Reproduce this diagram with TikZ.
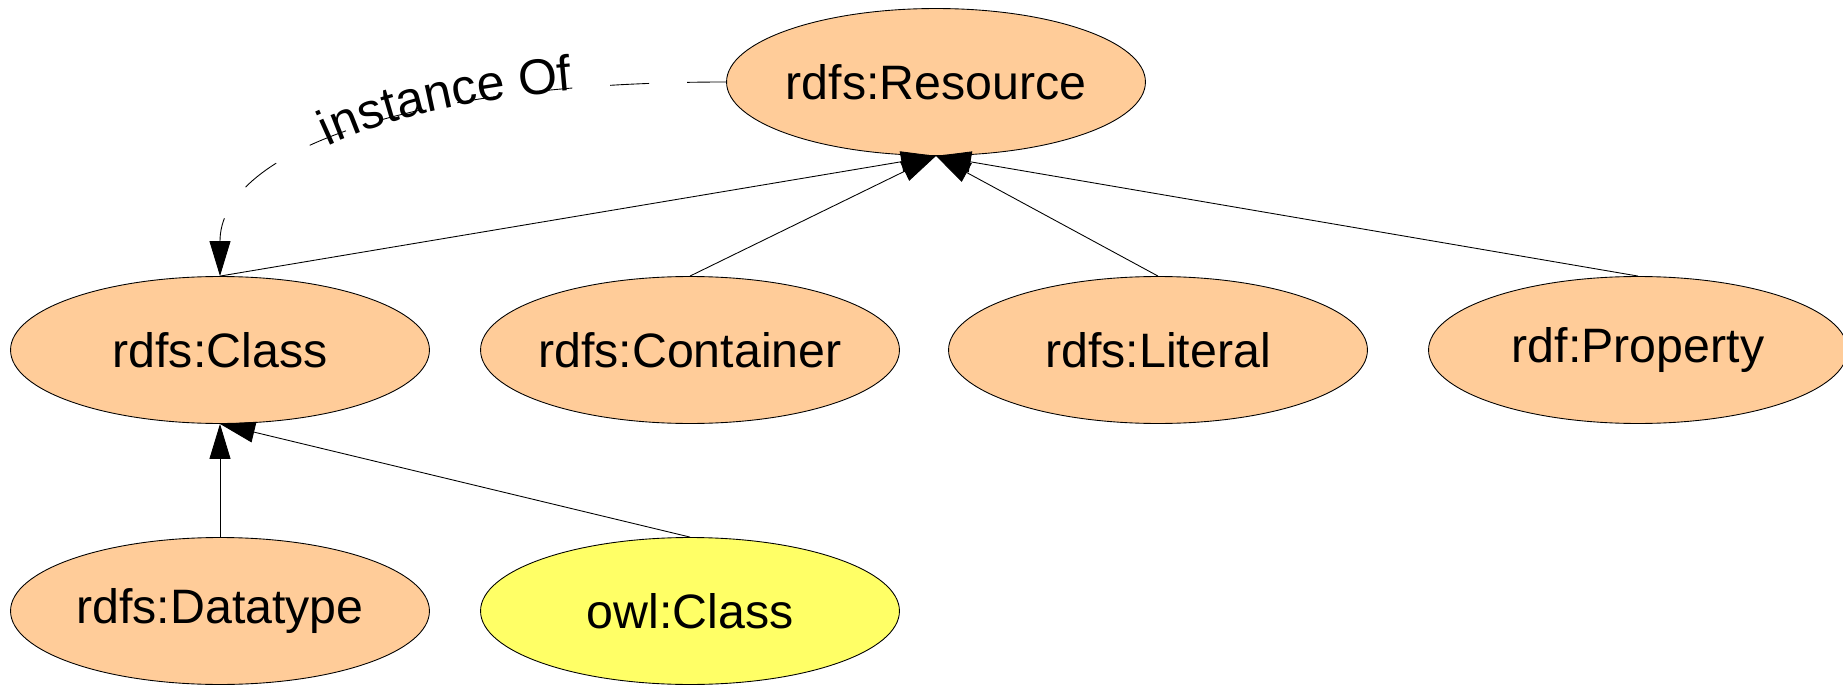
\documentclass[tikz,border=0pt]{standalone}
\usepackage{fontspec}
\setmainfont{Liberation Sans}
\usetikzlibrary{arrows.meta,shapes.geometric,decorations.text}
\definecolor{rdfsorange}{RGB}{255,204,153}
\definecolor{owlyellow}{RGB}{255,255,102}
\newcommand{\lblfont}{\fontsize{27.5pt}{32pt}\selectfont}
\newcommand{\edgefont}{\fontsize{28.5pt}{34pt}\selectfont}

\begin{document}
\begin{tikzpicture}[x=0.02cm,y=-0.02cm,
  term/.style={ellipse,draw=black,line width=0.5pt,fill=rdfsorange,minimum width=8.38cm,minimum height=2.94cm,inner xsep=-0.3cm,inner ysep=0pt,font=\lblfont},
  subof/.style={-{Triangle[length=0.7cm,width=0.42cm]},line width=0.5pt},
  instof/.style={subof,dash pattern=on 0.78cm off 0.76cm}]
\useasboundingbox (0,0) rectangle (1843,686);
% classes
\node[term] (res) at (936,82) {rdfs:Resource};
\node[term] (cls) at (220,350) {rdfs:Class};
\node[term] (cont) at (690,350) {rdfs:Container};
\node[term] (lit) at (1158,350) {rdfs:Literal};
\node[term] (prop) at (1638,350) {rdf:Property};
\node[term] (dt) at (220,611) {rdfs:Datatype};
\node[term,fill=owlyellow] (owl) at (690,611) {owl:Class};
% subclass links
\draw[subof] (cls.north) -- (res.south);
\draw[subof] (cont.north) -- (res.south);
\draw[subof] (lit.north) -- (res.south);
\draw[subof] (prop.north) -- (res.south);
\draw[subof] (dt.north) -- (cls.south);
\draw[subof] (owl.north) -- (cls.south);
% instance link
\draw[instof] (res.west) .. controls +(-330,0) and +(0,-120) .. (cls.north);
\path[decorate,decoration={text along path,text={|\edgefont|instance Of},text align={align=left,left indent=3.6cm},raise=-0.05cm}]
  (cls.north) .. controls +(0,-120) and +(-330,0) .. (res.west);
\end{tikzpicture}
\end{document}
